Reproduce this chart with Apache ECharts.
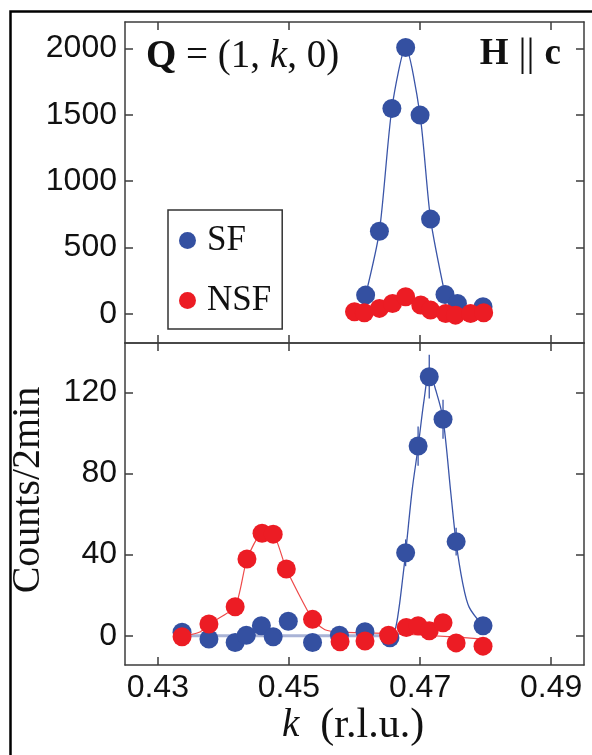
<!DOCTYPE html>
<html>
<head>
<meta charset="utf-8">
<script src="https://cdn.jsdelivr.net/npm/echarts@6/dist/echarts.min.js"></script>
<style>
  html, body { margin: 0; padding: 0; background: #fff; }
  #chart { width: 592px; height: 755px; }
</style>
</head>
<body>
<div id="chart"></div>
<script>
// ---- Upper panel: large-scale scan ----
const sfTopK      = [0.4617, 0.4638, 0.4657, 0.4678, 0.4700, 0.4716, 0.4738, 0.4757, 0.4796];
const sfTopCounts = [141, 623, 1548, 2008, 1498, 714, 145, 78, 53];
const nsfTopK      = [0.4600, 0.4615, 0.4638, 0.4658, 0.4678, 0.4701, 0.4716, 0.4739, 0.4754, 0.4777, 0.4797];
const nsfTopCounts = [15, 8, 41, 78, 128, 66, 28, 3, -10, 3, 8];

// ---- Lower panel: zoomed scan ----
const sfLowK      = [0.4337, 0.4378, 0.4418, 0.4435, 0.4458, 0.4476, 0.4499, 0.4536, 0.4577, 0.4616, 0.4654, 0.4678, 0.4697, 0.4714, 0.4735, 0.4755, 0.4796];
const sfLowCounts = [1.7, -1.6, -3.3, 0.3, 4.9, -0.5, 7.2, -3.3, 0.3, 2.0, -1.0, 40.9, 93.5, 127.7, 106.7, 46.4, 4.9];
const sfLowErr    = [1.3, 1.3, 1.8, 1.0, 2.2, 1.0, 2.7, 1.8, 1.0, 1.4, 1.0, 6.6, 9.7, 10.8, 9.6, 6.8, 2.2];
const nsfLowK      = [0.4337, 0.4378, 0.4418, 0.4436, 0.4459, 0.4476, 0.4496, 0.4536, 0.4578, 0.4616, 0.4652, 0.4679, 0.4697, 0.4714, 0.4735, 0.4755, 0.4796];
const nsfLowCounts = [-0.5, 5.8, 14.3, 37.8, 50.5, 50.1, 32.9, 8.1, -2.9, -2.6, 0.3, 4.1, 4.9, 2.5, 6.4, -3.5, -5.1];

// Fitted curves
const sfTopFitK = [0.4617, 0.4638, 0.4657, 0.4678, 0.4700, 0.4716, 0.4738];
const sfTopFitY = [141, 623, 1548, 2008, 1498, 714, 145];
const sfLowBaseK = [0.4337, 0.4655];
const sfLowBaseY = [0, 0];
const sfLowPeakK = [0.4655, 0.4662, 0.4668, 0.4673, 0.4678, 0.4688, 0.4697, 0.4706, 0.4714, 0.4724, 0.4735, 0.4747, 0.4755, 0.4765, 0.4775, 0.4796];
const sfLowPeakY = [0, 3, 14, 27, 41, 72, 93, 116, 130, 121, 107, 70, 46, 26, 14, 5];
const nsfLowFitK = [0.4337, 0.4350, 0.4365, 0.4378, 0.4418, 0.4436, 0.4459, 0.4476, 0.4496, 0.4536, 0.4555, 0.4580, 0.4650, 0.4750, 0.4796];
const nsfLowFitY = [-0.3, 0.5, 2, 5.8, 14.3, 37.8, 50.5, 50.1, 32.9, 8.1, 3, 1.8, 1.2, -0.5, -1.6];

// Axis ticks
const kTicks = [0.43, 0.45, 0.47, 0.49];
const topTicks = [0, 500, 1000, 1500, 2000];
const lowTicks = [0, 40, 80, 120];

const zip = (a, b) => a.map((v, i) => [v, b[i]]);

const BLUE = '#3450a1';
const RED = '#ec1c24';
const FRAME = '#3c3c3c';
const SANS = 'Liberation Sans, Arial, sans-serif';
const SERIF = 'Liberation Serif, Times New Roman, serif';
const SP = '\u00a0';
const DOT = 19;

function xAxis(grid, pos, labels) {
  return {
    type: 'value', gridIndex: grid, position: pos,
    min: 0.425, max: 0.495,
    axisLine: { show: true, onZero: false, lineStyle: { color: FRAME, width: 1.5 } },
    axisTick: { show: true, inside: true, length: 8, customValues: kTicks, lineStyle: { color: FRAME, width: 1.5 } },
    axisLabel: {
      show: labels, customValues: kTicks, margin: 7,
      fontFamily: SANS, fontSize: 32, color: '#111',
      formatter: v => v.toFixed(2)
    },
    splitLine: { show: false }
  };
}
function yAxis(grid, pos, min, max, ticks, labels) {
  return {
    type: 'value', gridIndex: grid, position: pos,
    min: min, max: max,
    axisLine: { show: true, onZero: false, lineStyle: { color: FRAME, width: 1.5 } },
    axisTick: { show: true, inside: true, length: 8, customValues: ticks, lineStyle: { color: FRAME, width: 1.5 } },
    axisLabel: {
      show: labels, customValues: ticks, margin: 8,
      fontFamily: SANS, fontSize: 32, color: '#111',
      formatter: v => String(Math.round(v))
    },
    splitLine: { show: false }
  };
}

const chart = echarts.init(document.getElementById('chart'), null, { renderer: 'canvas' });

const option = {
  animation: false,
  backgroundColor: '#fff',
  grid: [
    { left: 125, top: 22, width: 459, height: 321 },
    { left: 125, top: 343, width: 459, height: 322 }
  ],
  xAxis: [
    xAxis(0, 'bottom', false),
    xAxis(0, 'top', false),
    xAxis(1, 'bottom', true),
    xAxis(1, 'top', false)
  ],
  yAxis: [
    yAxis(0, 'left', -220, 2200, topTicks, true),
    yAxis(0, 'right', -220, 2200, topTicks, false),
    yAxis(1, 'left', -14.4, 144.3, lowTicks, true),
    yAxis(1, 'right', -14.4, 144.3, lowTicks, false)
  ],
  legend: {
    left: 168, top: 210, orient: 'vertical',
    data: ['SF', 'NSF'],
    icon: 'circle', itemWidth: 17, itemHeight: 17, itemGap: 25,
    padding: [13, 11, 11, 11],
    borderColor: '#333', borderWidth: 1.5,
    selectedMode: false,
    textStyle: { fontFamily: SERIF, fontSize: 35, color: '#111', lineHeight: 30, padding: [0, 0, 0, 6] }
  },
  series: [
    // upper panel
    { name: 'SF fit', type: 'line', xAxisIndex: 0, yAxisIndex: 0, data: zip(sfTopFitK, sfTopFitY),
      showSymbol: false, smooth: 0.25, lineStyle: { color: '#3a55a8', width: 1.3 }, z: 1 },
    { name: 'SF', type: 'scatter', xAxisIndex: 0, yAxisIndex: 0, data: zip(sfTopK, sfTopCounts),
      symbolSize: DOT, itemStyle: { color: BLUE, opacity: 1 }, z: 3 },
    { name: 'NSF', type: 'scatter', xAxisIndex: 0, yAxisIndex: 0, data: zip(nsfTopK, nsfTopCounts),
      symbolSize: DOT, itemStyle: { color: RED, opacity: 1 }, z: 4 },
    // lower panel
    { name: 'SF base', type: 'line', xAxisIndex: 2, yAxisIndex: 2, data: zip(sfLowBaseK, sfLowBaseY),
      showSymbol: false, lineStyle: { color: '#a9b3d6', width: 3 }, z: 1 },
    { name: 'SF peak', type: 'line', xAxisIndex: 2, yAxisIndex: 2, data: zip(sfLowPeakK, sfLowPeakY),
      showSymbol: false, smooth: 0.3, lineStyle: { color: '#3a55a8', width: 1.3 }, z: 1 },
    { name: 'NSF fit', type: 'line', xAxisIndex: 2, yAxisIndex: 2, data: zip(nsfLowFitK, nsfLowFitY),
      showSymbol: false, smooth: 0.2, lineStyle: { color: '#ee4a4a', width: 1.2 }, z: 1 },
    { name: 'SF err', type: 'custom', xAxisIndex: 2, yAxisIndex: 2,
      data: sfLowK.map((k, i) => [k, sfLowCounts[i] - sfLowErr[i], sfLowCounts[i] + sfLowErr[i]]),
      encode: { x: 0, y: [1, 2] },
      renderItem: (params, api) => {
        const a = api.coord([api.value(0), api.value(1)]);
        const b = api.coord([api.value(0), api.value(2)]);
        return { type: 'line', shape: { x1: a[0], y1: a[1], x2: b[0], y2: b[1] },
                 style: { stroke: '#3a55a8', lineWidth: 1.3 } };
      }, z: 2 },
    { name: 'SF', type: 'scatter', xAxisIndex: 2, yAxisIndex: 2, data: zip(sfLowK, sfLowCounts),
      symbolSize: DOT, itemStyle: { color: BLUE, opacity: 1 }, z: 3 },
    { name: 'NSF', type: 'scatter', xAxisIndex: 2, yAxisIndex: 2, data: zip(nsfLowK, nsfLowCounts),
      symbolSize: DOT, itemStyle: { color: RED, opacity: 1 }, z: 4 }
  ],
  graphic: [
    // outer frame
    { type: 'rect', shape: { x: 10.5, y: 11.5, width: 700, height: 900 },
      style: { fill: 'none', stroke: '#000', lineWidth: 2.5 }, z: 10 },
    // scan label
    { type: 'text', x: 146, y: 57, z: 10,
      style: {
        text: '{b|Q}{r|' + SP + '=' + SP + '(1,' + SP + '}{i|k}{r|,' + SP + '0)}',
        verticalAlign: 'middle',
        rich: {
          b: { fontFamily: SERIF, fontWeight: 'bold', fontSize: 39, fill: '#111' },
          r: { fontFamily: SERIF, fontSize: 39, fill: '#111' },
          i: { fontFamily: SERIF, fontStyle: 'italic', fontSize: 39, fill: '#111' }
        }
      } },
    // field direction
    { type: 'text', x: 561, y: 54, z: 10,
      style: {
        text: '{b|H}{r|' + SP + '||' + SP + '}{b|c}',
        align: 'right', verticalAlign: 'middle',
        rich: {
          b: { fontFamily: SERIF, fontWeight: 'bold', fontSize: 37, fill: '#111' },
          r: { fontFamily: SERIF, fontSize: 40, fill: '#111' }
        }
      } },
    // y-axis title
    { type: 'text', x: 28, y: 490, rotation: Math.PI / 2, z: 10,
      style: { text: 'Counts/2min', fontFamily: SERIF, fontSize: 40, fill: '#111',
               align: 'center', verticalAlign: 'middle' } },
    // x-axis title
    { type: 'text', x: 282, y: 726, z: 10,
      style: {
        text: '{i|k}{r|' + SP + SP + '(r.l.u.)}',
        align: 'left', verticalAlign: 'middle',
        rich: {
          i: { fontFamily: SERIF, fontStyle: 'italic', fontSize: 39, fill: '#111' },
          r: { fontFamily: SERIF, fontSize: 42, fill: '#111' }
        }
      } }
  ]
};

chart.setOption(option);
</script>
</body>
</html>
